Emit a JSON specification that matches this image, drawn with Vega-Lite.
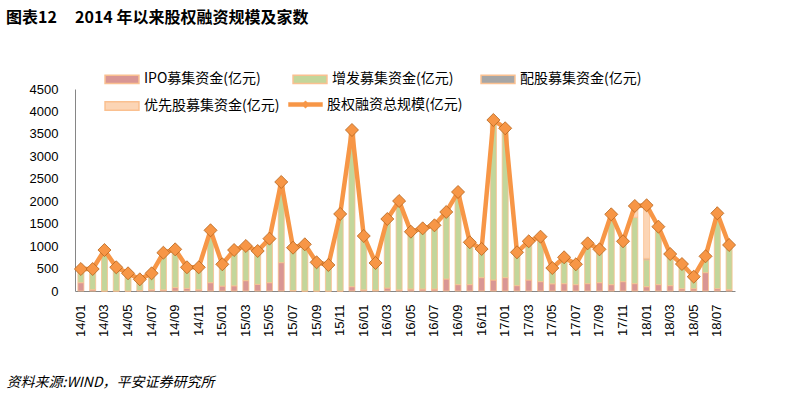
{
  "$schema": "https://vega.github.io/schema/vega-lite/v6.json",
  "width": 660,
  "height": 202,
  "autosize": {"type": "none"},
  "padding": {"left": 75, "top": 89, "right": 50, "bottom": 110},
  "background": "white",
  "title": {
    "text": "图表12\u00a0\u00a0\u00a0\u00a0 2014 年以来股权融资规模及家数",
    "anchor": "start",
    "frame": "group",
    "dx": -69,
    "offset": 35,
    "font": "Noto Sans CJK SC",
    "fontSize": 16,
    "fontWeight": "bold",
    "color": "#000000"
  },
  "data": {
    "values": [
      {"m": "14/01", "a_ipo": 185, "b_zf": 305, "c_pg": 0, "d_yxg": 0, "total": 490},
      {"m": "14/02", "a_ipo": 30, "b_zf": 460, "c_pg": 0, "d_yxg": 0, "total": 490},
      {"m": "14/03", "a_ipo": 0, "b_zf": 913, "c_pg": 0, "d_yxg": 0, "total": 913},
      {"m": "14/04", "a_ipo": 0, "b_zf": 528, "c_pg": 0, "d_yxg": 0, "total": 528},
      {"m": "14/05", "a_ipo": 0, "b_zf": 394, "c_pg": 0, "d_yxg": 0, "total": 394},
      {"m": "14/06", "a_ipo": 10, "b_zf": 250, "c_pg": 0, "d_yxg": 0, "total": 260},
      {"m": "14/07", "a_ipo": 30, "b_zf": 364, "c_pg": 0, "d_yxg": 0, "total": 394},
      {"m": "14/08", "a_ipo": 25, "b_zf": 828, "c_pg": 0, "d_yxg": 0, "total": 853},
      {"m": "14/09", "a_ipo": 75, "b_zf": 853, "c_pg": 0, "d_yxg": 0, "total": 928},
      {"m": "14/10", "a_ipo": 60, "b_zf": 468, "c_pg": 0, "d_yxg": 0, "total": 528},
      {"m": "14/11", "a_ipo": 30, "b_zf": 498, "c_pg": 0, "d_yxg": 0, "total": 528},
      {"m": "14/12", "a_ipo": 185, "b_zf": 1167, "c_pg": 0, "d_yxg": 0, "total": 1352},
      {"m": "15/01", "a_ipo": 110, "b_zf": 485, "c_pg": 0, "d_yxg": 0, "total": 595},
      {"m": "15/02", "a_ipo": 115, "b_zf": 798, "c_pg": 0, "d_yxg": 0, "total": 913},
      {"m": "15/03", "a_ipo": 230, "b_zf": 773, "c_pg": 0, "d_yxg": 0, "total": 1003},
      {"m": "15/04", "a_ipo": 148, "b_zf": 743, "c_pg": 0, "d_yxg": 0, "total": 891},
      {"m": "15/05", "a_ipo": 185, "b_zf": 981, "c_pg": 0, "d_yxg": 0, "total": 1166},
      {"m": "15/06", "a_ipo": 631, "b_zf": 1798, "c_pg": 0, "d_yxg": 0, "total": 2429},
      {"m": "15/07", "a_ipo": 10, "b_zf": 955, "c_pg": 0, "d_yxg": 0, "total": 965},
      {"m": "15/08", "a_ipo": 0, "b_zf": 1040, "c_pg": 0, "d_yxg": 0, "total": 1040},
      {"m": "15/09", "a_ipo": 0, "b_zf": 639, "c_pg": 0, "d_yxg": 0, "total": 639},
      {"m": "15/10", "a_ipo": 0, "b_zf": 579, "c_pg": 0, "d_yxg": 0, "total": 579},
      {"m": "15/11", "a_ipo": 0, "b_zf": 1716, "c_pg": 0, "d_yxg": 0, "total": 1716},
      {"m": "15/12", "a_ipo": 96, "b_zf": 3491, "c_pg": 0, "d_yxg": 0, "total": 3587},
      {"m": "16/01", "a_ipo": 25, "b_zf": 1200, "c_pg": 0, "d_yxg": 0, "total": 1225},
      {"m": "16/02", "a_ipo": 20, "b_zf": 604, "c_pg": 0, "d_yxg": 0, "total": 624},
      {"m": "16/03", "a_ipo": 66, "b_zf": 1538, "c_pg": 0, "d_yxg": 0, "total": 1604},
      {"m": "16/04", "a_ipo": 25, "b_zf": 1980, "c_pg": 0, "d_yxg": 0, "total": 2005},
      {"m": "16/05", "a_ipo": 44, "b_zf": 1277, "c_pg": 0, "d_yxg": 0, "total": 1321},
      {"m": "16/06", "a_ipo": 44, "b_zf": 1352, "c_pg": 0, "d_yxg": 0, "total": 1396},
      {"m": "16/07", "a_ipo": 44, "b_zf": 1419, "c_pg": 0, "d_yxg": 0, "total": 1463},
      {"m": "16/08", "a_ipo": 267, "b_zf": 1493, "c_pg": 0, "d_yxg": 0, "total": 1760},
      {"m": "16/09", "a_ipo": 141, "b_zf": 2065, "c_pg": 0, "d_yxg": 0, "total": 2206},
      {"m": "16/10", "a_ipo": 141, "b_zf": 944, "c_pg": 0, "d_yxg": 0, "total": 1085},
      {"m": "16/11", "a_ipo": 297, "b_zf": 639, "c_pg": 0, "d_yxg": 0, "total": 936},
      {"m": "16/12", "a_ipo": 245, "b_zf": 3565, "c_pg": 0, "d_yxg": 0, "total": 3810},
      {"m": "17/01", "a_ipo": 297, "b_zf": 3328, "c_pg": 0, "d_yxg": 0, "total": 3625},
      {"m": "17/02", "a_ipo": 119, "b_zf": 743, "c_pg": 0, "d_yxg": 0, "total": 862},
      {"m": "17/03", "a_ipo": 245, "b_zf": 862, "c_pg": 0, "d_yxg": 0, "total": 1107},
      {"m": "17/04", "a_ipo": 208, "b_zf": 1002, "c_pg": 0, "d_yxg": 0, "total": 1210},
      {"m": "17/05", "a_ipo": 160, "b_zf": 352, "c_pg": 0, "d_yxg": 0, "total": 512},
      {"m": "17/06", "a_ipo": 163, "b_zf": 588, "c_pg": 0, "d_yxg": 0, "total": 751},
      {"m": "17/07", "a_ipo": 141, "b_zf": 454, "c_pg": 0, "d_yxg": 0, "total": 595},
      {"m": "17/08", "a_ipo": 163, "b_zf": 899, "c_pg": 0, "d_yxg": 0, "total": 1062},
      {"m": "17/09", "a_ipo": 185, "b_zf": 743, "c_pg": 0, "d_yxg": 0, "total": 928},
      {"m": "17/10", "a_ipo": 141, "b_zf": 1567, "c_pg": 0, "d_yxg": 0, "total": 1708},
      {"m": "17/11", "a_ipo": 208, "b_zf": 899, "c_pg": 0, "d_yxg": 0, "total": 1107},
      {"m": "17/12", "a_ipo": 163, "b_zf": 1479, "c_pg": 0, "d_yxg": 252, "total": 1894},
      {"m": "18/01", "a_ipo": 96, "b_zf": 600, "c_pg": 30, "d_yxg": 1183, "total": 1909},
      {"m": "18/02", "a_ipo": 141, "b_zf": 1292, "c_pg": 0, "d_yxg": 0, "total": 1433},
      {"m": "18/03", "a_ipo": 119, "b_zf": 705, "c_pg": 0, "d_yxg": 0, "total": 824},
      {"m": "18/04", "a_ipo": 52, "b_zf": 549, "c_pg": 0, "d_yxg": 0, "total": 601},
      {"m": "18/05", "a_ipo": 52, "b_zf": 267, "c_pg": 0, "d_yxg": 0, "total": 319},
      {"m": "18/06", "a_ipo": 408, "b_zf": 365, "c_pg": 0, "d_yxg": 0, "total": 773},
      {"m": "18/07", "a_ipo": 52, "b_zf": 1679, "c_pg": 0, "d_yxg": 0, "total": 1731},
      {"m": "18/08", "a_ipo": 30, "b_zf": 995, "c_pg": 0, "d_yxg": 0, "total": 1025}
    ]
  },
  "encoding": {
    "x": {
      "field": "m",
      "type": "ordinal",
      "sort": null,
      "scale": {"paddingInner": 0, "paddingOuter": 0},
      "axis": {
        "values": ["14/01","14/03","14/05","14/07","14/09","14/11","15/01","15/03","15/05","15/07","15/09","15/11","16/01","16/03","16/05","16/07","16/09","16/11","17/01","17/03","17/05","17/07","17/09","17/11","18/01","18/03","18/05","18/07"],
        "labelAngle": -90,
        "labelPadding": 13,
        "title": "资料来源:WIND，平安证券研究所",
        "titleX": -69,
        "titleY": 91,
        "titleAlign": "left",
        "titleAnchor": "start",
        "titleBaseline": "middle",
        "titleFont": "Noto Sans CJK SC",
        "titleFontSize": 14,
        "titleFontStyle": "italic",
        "titleFontWeight": "normal",
        "titleColor": "#000000"
      }
    }
  },
  "layer": [
    {
      "transform": [{"fold": ["a_ipo", "b_zf", "c_pg", "d_yxg"], "as": ["series", "val"]}],
      "mark": {"type": "bar", "size": 6, "stroke": "#FAC090", "strokeWidth": 0.8},
      "encoding": {
        "y": {
          "field": "val",
          "type": "quantitative",
          "stack": "zero",
          "scale": {"domain": [0, 4500], "nice": false},
          "axis": {"values": [0,500,1000,1500,2000,2500,3000,3500,4000,4500], "format": "d", "title": null, "labelPadding": 17}
        },
        "order": {"field": "series", "type": "nominal", "sort": "ascending"},
        "fill": {
          "field": "series",
          "type": "nominal",
          "scale": {
            "domain": ["a_ipo", "b_zf", "c_pg", "d_yxg"],
            "range": ["#D99694", "#C3D69B", "#A6A6A6", "#FCD5B5"]
          },
          "legend": {
            "orient": "none",
            "legendX": 29,
            "legendY": -28,
            "columns": 3,
            "gridAlign": "all",
            "direction": "horizontal",
            "title": null,
            "symbolType": "M-1,-0.25L1,-0.25L1,0.25L-1,0.25Z",
            "symbolSize": 1150,
            "labelOffset": 4,
            "columnPadding": 10,
            "rowPadding": 1,
            "labelFont": "Noto Sans CJK SC",
            "labelFontSize": 14,
            "labelColor": "#000000",
            "labelLimit": 300,
            "labelExpr": "datum.value==='a_ipo'?'IPO募集资金(亿元)':datum.value==='b_zf'?'增发募集资金(亿元)':datum.value==='c_pg'?'配股募集资金(亿元)':'优先股募集资金(亿元)'",
            "encode": {
              "symbols": {
                "update": {
                  "stroke": {"signal": "datum.value==='a_ipo'?'#F79646':datum.value==='b_zf'?'#FAC090':datum.value==='c_pg'?'#A6A6A6':'#FCD5B5'"},
                  "strokeWidth": {"value": 1.2},
                  "opacity": {"value": 1},
                  "fillOpacity": {"value": 1}
                }
              }
            }
          }
        }
      }
    },
    {
      "mark": {"type": "line", "strokeWidth": 4.5},
      "encoding": {
        "y": {
          "field": "total",
          "type": "quantitative",
          "scale": {"domain": [0, 4500], "nice": false},
          "axis": {"values": [0,500,1000,1500,2000,2500,3000,3500,4000,4500], "format": "d", "title": null, "labelPadding": 17}
        },
        "stroke": {
          "datum": "股权融资总规模(亿元)",
          "type": "nominal",
          "scale": {"range": ["#F79646"]},
          "legend": {
            "orient": "none",
            "legendX": 213,
            "legendY": -2,
            "title": null,
            "symbolType": "M-1,-0.12L1,-0.12L1,0.12L-1,0.12Z M0,-0.22L0.22,0L0,0.22L-0.22,0Z",
            "symbolSize": 1150,
            "symbolFillColor": "#F79646",
            "symbolStrokeColor": "#F79646",
            "symbolStrokeWidth": 0.5,
            "labelOffset": 4,
            "labelFont": "Noto Sans CJK SC",
            "labelFontSize": 14,
            "labelColor": "#000000",
            "labelLimit": 300,
            "encode": {
              "symbols": {
                "update": {
                  "fill": {"value": "#F79646"},
                  "stroke": {"value": "#D2691E"},
                  "strokeWidth": {"value": 0.5},
                  "opacity": {"value": 1},
                  "fillOpacity": {"value": 1}
                }
              }
            }
          }
        }
      }
    },
    {
      "mark": {"type": "point", "shape": "diamond", "size": 170, "filled": true, "fill": "#F79646", "stroke": "#B5651D", "strokeWidth": 0.8, "opacity": 1},
      "encoding": {
        "y": {
          "field": "total",
          "type": "quantitative",
          "scale": {"domain": [0, 4500], "nice": false},
          "axis": {"values": [0,500,1000,1500,2000,2500,3000,3500,4000,4500], "format": "d", "title": null, "labelPadding": 17}
        }
      }
    }
  ],
  "config": {
    "view": {"stroke": null},
    "axis": {
      "grid": false,
      "ticks": false,
      "domainColor": "#868686",
      "domainWidth": 1,
      "labelFont": "Liberation Sans",
      "labelFontSize": 13,
      "labelColor": "#000000"
    }
  }
}
